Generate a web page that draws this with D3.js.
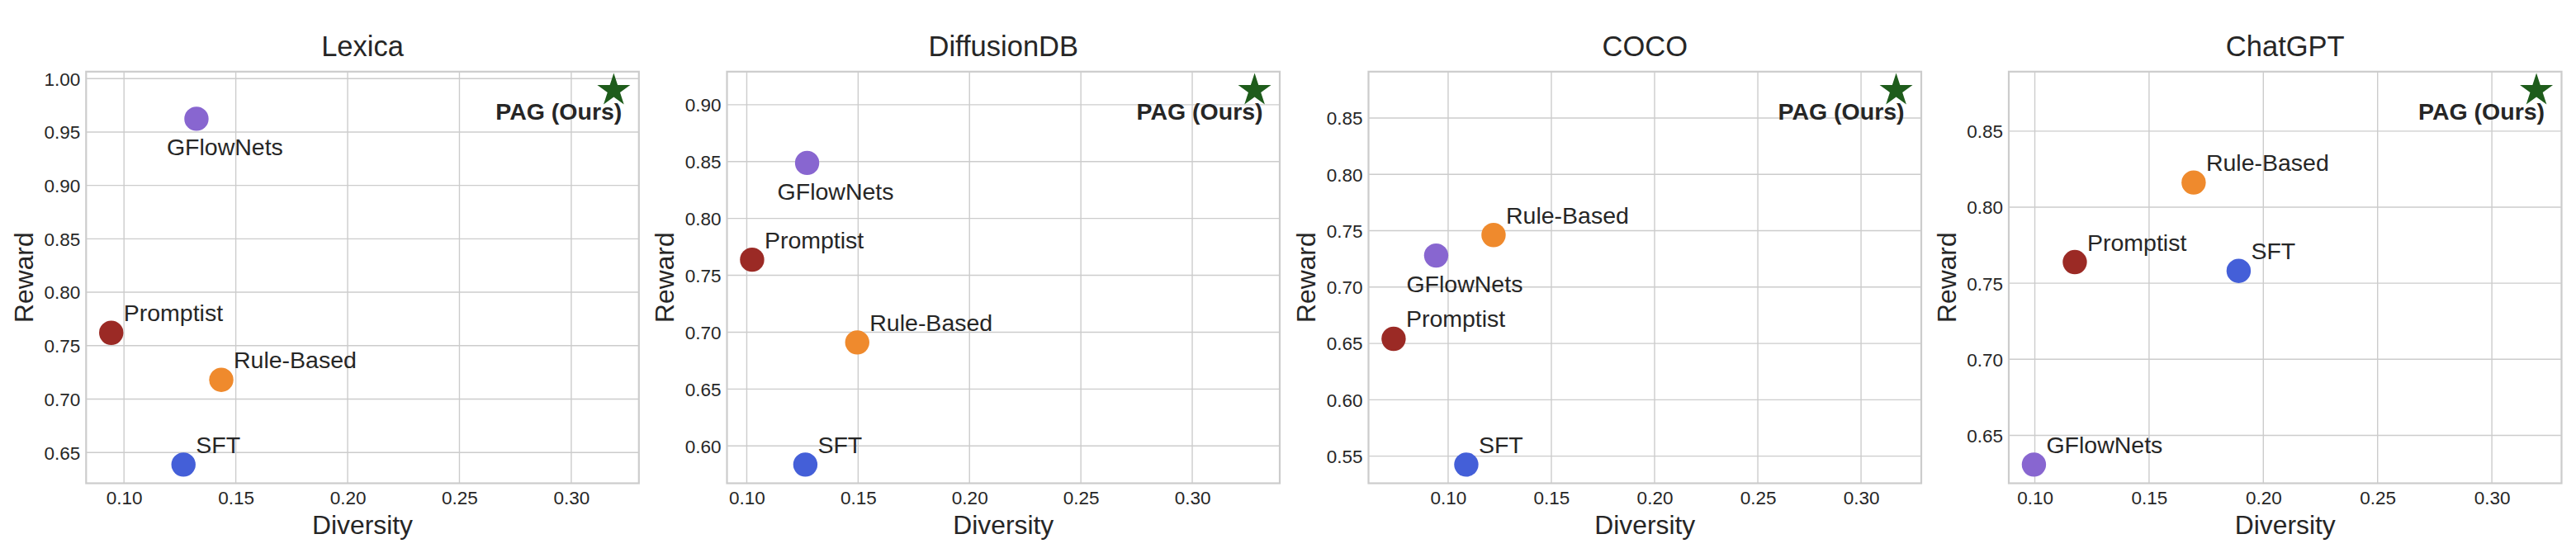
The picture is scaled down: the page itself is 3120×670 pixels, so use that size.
<!DOCTYPE html>
<html>
<head>
<meta charset="utf-8">
<script src="https://cdn.jsdelivr.net/npm/d3@7"></script>
<style>
  html, body { margin: 0; padding: 0; background: #ffffff; }
  svg { display: block; }
  text { font-family: "Liberation Sans", Arial, Helvetica, sans-serif; fill: #262626; }
</style>
</head>
<body>
<svg id="chart" width="3120" height="670"></svg>
<script>
// ---------------- DATA ----------------
const datasets = ["Lexica", "DiffusionDB", "COCO", "ChatGPT"];
const methods = ["GFlowNets", "Promptist", "Rule-Based", "SFT", "PAG (Ours)"];
const methodColors = ["#8866d0", "#9b2a25", "#ef8a2d", "#445fd8", "#1e5c1b"];

// Diversity (x) and Reward (y) per dataset, in the order of `methods`
const lexicaDiversity      = [0.1324, 0.0943, 0.1435, 0.1266, 0.3190];
const lexicaReward         = [0.9624, 0.7620, 0.7180, 0.6387, 0.9890];
const diffusionDiversity   = [0.1271, 0.1024, 0.1496, 0.1263, 0.3280];
const diffusionReward      = [0.8488, 0.7637, 0.6910, 0.5836, 0.9126];
const cocoDiversity        = [0.0942, 0.0736, 0.1220, 0.1088, 0.3170];
const cocoReward           = [0.7280, 0.6541, 0.7462, 0.5425, 0.8746];
const chatgptDiversity     = [0.0996, 0.1175, 0.1695, 0.1892, 0.3195];
const chatgptReward        = [0.6308, 0.7639, 0.8162, 0.7581, 0.8768];

// tick labels
const xTickValues = [0.10, 0.15, 0.20, 0.25, 0.30];
const lexicaYTicks    = [0.65, 0.70, 0.75, 0.80, 0.85, 0.90, 0.95, 1.00];
const diffusionYTicks = [0.60, 0.65, 0.70, 0.75, 0.80, 0.85, 0.90];
const cocoYTicks      = [0.55, 0.60, 0.65, 0.70, 0.75, 0.80, 0.85];
const chatgptYTicks   = [0.65, 0.70, 0.75, 0.80, 0.85];

// where the GFlowNets label sits relative to its dot, per dataset
const gflowLabelPlacement = ["below", "below", "below", "above"];

const xLabel = "Diversity";
const yLabel = "Reward";

// ---------------- LAYOUT ----------------
const panels = [
  { name: datasets[0], div: lexicaDiversity,    rew: lexicaReward,    yTicks: lexicaYTicks,    left: 104.3 },
  { name: datasets[1], div: diffusionDiversity, rew: diffusionReward, yTicks: diffusionYTicks, left: 880.5 },
  { name: datasets[2], div: cocoDiversity,      rew: cocoReward,      yTicks: cocoYTicks,      left: 1657.5 },
  { name: datasets[3], div: chatgptDiversity,   rew: chatgptReward,   yTicks: chatgptYTicks,   left: 2433 }
];
const axW = 669.5, axTop = 86.8, axBottom = 585.5;

const svg = d3.select("#chart");

function padded(ext) {
  const m = (ext[1] - ext[0]) * 0.05;
  return [ext[0] - m, ext[1] + m];
}

panels.forEach((p, pi) => {
  const x = d3.scaleLinear().domain(padded(d3.extent(p.div))).range([p.left, p.left + axW]);
  const y = d3.scaleLinear().domain(padded(d3.extent(p.rew))).range([axBottom, axTop]);
  const g = svg.append("g");

  // grid
  g.append("g").selectAll("line").data(xTickValues).join("line")
    .attr("x1", d => x(d)).attr("x2", d => x(d))
    .attr("y1", axTop).attr("y2", axBottom)
    .attr("stroke", "#cccccc").attr("stroke-width", 1.4);
  g.append("g").selectAll("line").data(p.yTicks).join("line")
    .attr("x1", p.left).attr("x2", p.left + axW)
    .attr("y1", d => y(d)).attr("y2", d => y(d))
    .attr("stroke", "#cccccc").attr("stroke-width", 1.4);

  // axes with d3 (tick labels only)
  const xAxis = d3.axisBottom(x).tickValues(xTickValues).tickFormat(d3.format(".2f")).tickSize(0).tickPadding(0);
  const xg = g.append("g").attr("transform", `translate(0,${axBottom})`).call(xAxis);
  xg.select(".domain").remove();
  xg.selectAll("text").attr("dy", null).attr("y", 25).attr("font-size", 22.5)
    .style("font-family", '"Liberation Sans", Arial, sans-serif').attr("fill", "#262626");

  const yAxis = d3.axisLeft(y).tickValues(p.yTicks).tickFormat(d3.format(".2f")).tickSize(0).tickPadding(0);
  const yg = g.append("g").attr("transform", `translate(${p.left},0)`).call(yAxis);
  yg.select(".domain").remove();
  yg.selectAll("text").attr("x", -7).attr("dy", "0.35em").attr("font-size", 22.5)
    .style("font-family", '"Liberation Sans", Arial, sans-serif').attr("fill", "#262626");

  // spines
  g.append("rect")
    .attr("x", p.left).attr("y", axTop).attr("width", axW).attr("height", axBottom - axTop)
    .attr("fill", "none").attr("stroke", "#cccccc").attr("stroke-width", 2.2);

  // title and axis labels
  const cx = p.left + axW / 2;
  g.append("text").attr("x", cx).attr("y", 68.4).attr("text-anchor", "middle")
    .attr("font-size", 34.5).text(p.name);
  g.append("text").attr("x", cx).attr("y", 647).attr("text-anchor", "middle")
    .attr("font-size", 31.8).text(xLabel);
  g.append("text")
    .attr("transform", `translate(${p.left - 64.5},${(axTop + axBottom) / 2}) rotate(-90)`)
    .attr("text-anchor", "middle").attr("font-size", 31.8).text(yLabel);

  // points
  const pts = methods.map((m, i) => ({ m, i, xv: p.div[i], yv: p.rew[i], color: methodColors[i] }));
  const circles = pts.filter(d => d.m !== "PAG (Ours)");
  g.append("g").selectAll("circle").data(circles).join("circle")
    .attr("cx", d => x(d.xv)).attr("cy", d => y(d.yv)).attr("r", 14.7)
    .attr("fill", d => d.color);

  const star = pts.find(d => d.m === "PAG (Ours)");
  g.append("path")
    .attr("d", d3.symbol().type(d3.symbolStar).size(495)())
    .attr("transform", `translate(${x(star.xv)},${y(star.yv)})`)
    .attr("fill", star.color);

  // labels
  circles.forEach(d => {
    const below = d.m === "GFlowNets" && gflowLabelPlacement[pi] === "below";
    g.append("text")
      .attr("x", x(d.xv) + (below ? -36 : 15))
      .attr("y", y(d.yv) + (below ? 44.5 : -14))
      .attr("font-size", 28.5).text(d.m);
  });
  g.append("text")
    .attr("x", x(star.xv) + 10).attr("y", y(star.yv) + 35.3)
    .attr("text-anchor", "end").attr("font-size", 28.5).attr("font-weight", "bold")
    .text(star.m);
});
</script>
</body>
</html>
